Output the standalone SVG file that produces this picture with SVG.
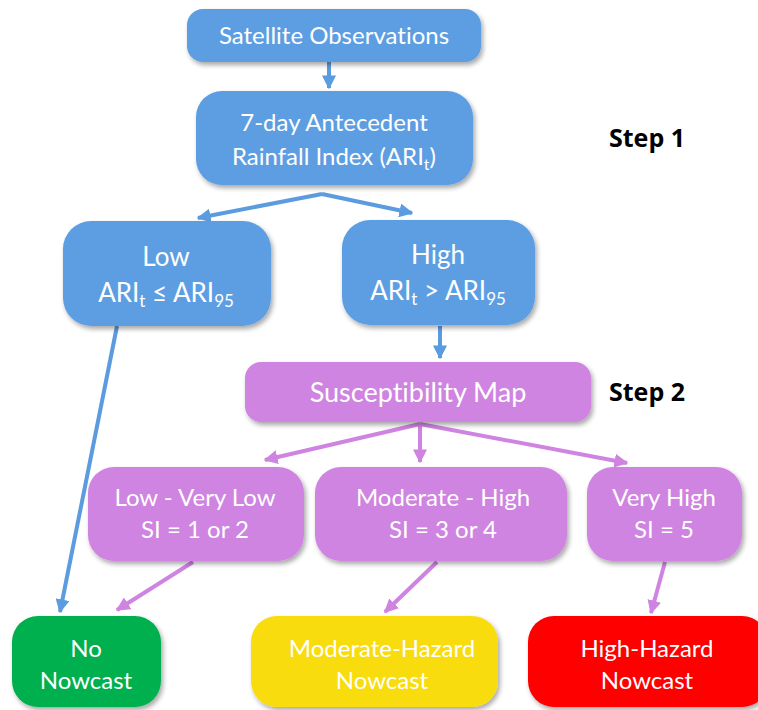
<svg xmlns="http://www.w3.org/2000/svg" width="758" height="710" viewBox="0 0 758 710">
<defs>
<filter id="sh" x="-10%" y="-10%" width="125%" height="130%">
<feGaussianBlur in="SourceAlpha" stdDeviation="2.5"/>
<feOffset dx="2" dy="3" result="b"/>
<feComponentTransfer><feFuncA type="linear" slope="0.35"/></feComponentTransfer>
<feMerge><feMergeNode/><feMergeNode in="SourceGraphic"/></feMerge>
</filter>
<marker id="ab" viewBox="0 0 10 10" refX="9" refY="5" markerWidth="3.5" markerHeight="3.5" orient="auto" markerUnits="strokeWidth"><path d="M0,0 L10,5 L0,10 z" fill="#5B9BE0"/></marker>
<marker id="ap" viewBox="0 0 10 10" refX="9" refY="5" markerWidth="3.5" markerHeight="3.5" orient="auto" markerUnits="strokeWidth"><path d="M0,0 L10,5 L0,10 z" fill="#CE84E0"/></marker>
</defs>
<style>
.b{fill:#5D9EE2}
.p{fill:#CE84E0}
.t{font-family:Lato,"Open Sans",sans-serif;fill:#fff;text-anchor:middle;font-variant-ligatures:none}
.s{font-family:"Open Sans",Lato,sans-serif;font-weight:bold;fill:#000;font-size:25px}
.cb{stroke:#5B9BE0;stroke-width:4;fill:none;marker-end:url(#ab)}
.cp{stroke:#CE84E0;stroke-width:4;fill:none;marker-end:url(#ap)}
</style>
<rect width="758" height="710" fill="#fff"/>
<g id="connectors">
<line class="cb" x1="329" y1="62" x2="329" y2="88"/>
<line class="cb" x1="322" y1="194" x2="198" y2="218"/>
<line class="cb" x1="322" y1="194" x2="412" y2="213"/>
<line class="cb" x1="117" y1="326" x2="60" y2="612"/>
<line class="cb" x1="440" y1="326" x2="440" y2="358"/>
<line class="cp" x1="420" y1="424" x2="265" y2="460"/>
<line class="cp" x1="420" y1="424" x2="420" y2="462"/>
<line class="cp" x1="420" y1="424" x2="627" y2="463"/>
<line class="cp" x1="193" y1="562" x2="117" y2="610"/>
<line class="cp" x1="437" y1="562" x2="385" y2="612"/>
<line class="cp" x1="665" y1="562" x2="651" y2="613"/>
</g>
<g id="satellite"><rect class="b" x="187" y="9" width="294" height="53" rx="16" filter="url(#sh)"/>
<text class="t" x="334" y="44" font-size="24">Satellite Observations</text></g>
<g id="ari"><rect class="b" x="196" y="91" width="277" height="94" rx="26" filter="url(#sh)"/>
<text class="t" x="334" y="131" font-size="24">7-day Antecedent</text>
<text class="t" x="334" y="165" font-size="24">Rainfall Index (ARI<tspan font-size="16" dy="5">t</tspan><tspan dy="-5">)</tspan></text></g>
<g id="low"><rect class="b" x="63" y="221" width="208" height="105" rx="28" filter="url(#sh)"/>
<text class="t" x="166" y="266" font-size="26">Low</text>
<text class="t" x="166" y="302" font-size="26">ARI<tspan font-size="17" dy="5">t</tspan><tspan dy="-5"> ≤ ARI</tspan><tspan font-size="17" dy="5">95</tspan></text></g>
<g id="high"><rect class="b" x="342" y="220" width="193" height="105" rx="28" filter="url(#sh)"/>
<text class="t" x="438" y="264" font-size="26">High</text>
<text class="t" x="438" y="300" font-size="26">ARI<tspan font-size="17" dy="5">t</tspan><tspan dy="-5"> &gt; ARI</tspan><tspan font-size="17" dy="5">95</tspan></text></g>
<text class="s" x="609" y="147">Step 1</text>
<g id="susceptibility"><rect class="p" x="245" y="362" width="346" height="60" rx="16" filter="url(#sh)"/>
<text class="t" x="418" y="402" font-size="27">Susceptibility Map</text></g>
<text class="s" x="609" y="401">Step 2</text>
<g id="lowvl"><rect class="p" x="88" y="467" width="216" height="94" rx="26" filter="url(#sh)"/>
<text class="t" x="195" y="506" font-size="24">Low - Very Low</text>
<text class="t" x="195" y="538" font-size="24">SI = 1 or 2</text></g>
<g id="modhigh"><rect class="p" x="315" y="467" width="252" height="94" rx="26" filter="url(#sh)"/>
<text class="t" x="443" y="506" font-size="24">Moderate - High</text>
<text class="t" x="443" y="538" font-size="24">SI = 3 or 4</text></g>
<g id="veryhigh"><rect class="p" x="587" y="467" width="155" height="94" rx="26" filter="url(#sh)"/>
<text class="t" x="664" y="506" font-size="24">Very High</text>
<text class="t" x="664" y="538" font-size="24">SI = 5</text></g>
<g id="nonowcast"><rect x="12" y="616" width="149" height="91" rx="26" fill="#00B050" filter="url(#sh)"/>
<text class="t" x="86" y="657" font-size="24">No</text>
<text class="t" x="86" y="689" font-size="24">Nowcast</text></g>
<g id="modhazard"><rect x="251" y="616" width="247" height="91" rx="26" fill="#F9DC0A" filter="url(#sh)"/>
<text class="t" x="382" y="657" font-size="24">Moderate-Hazard</text>
<text class="t" x="382" y="689" font-size="24">Nowcast</text></g>
<g id="highhazard"><rect x="528" y="616" width="240" height="91" rx="26" fill="#FF0000" filter="url(#sh)"/>
<text class="t" x="647" y="657" font-size="24">High-Hazard</text>
<text class="t" x="647" y="689" font-size="24">Nowcast</text></g>
</svg>
